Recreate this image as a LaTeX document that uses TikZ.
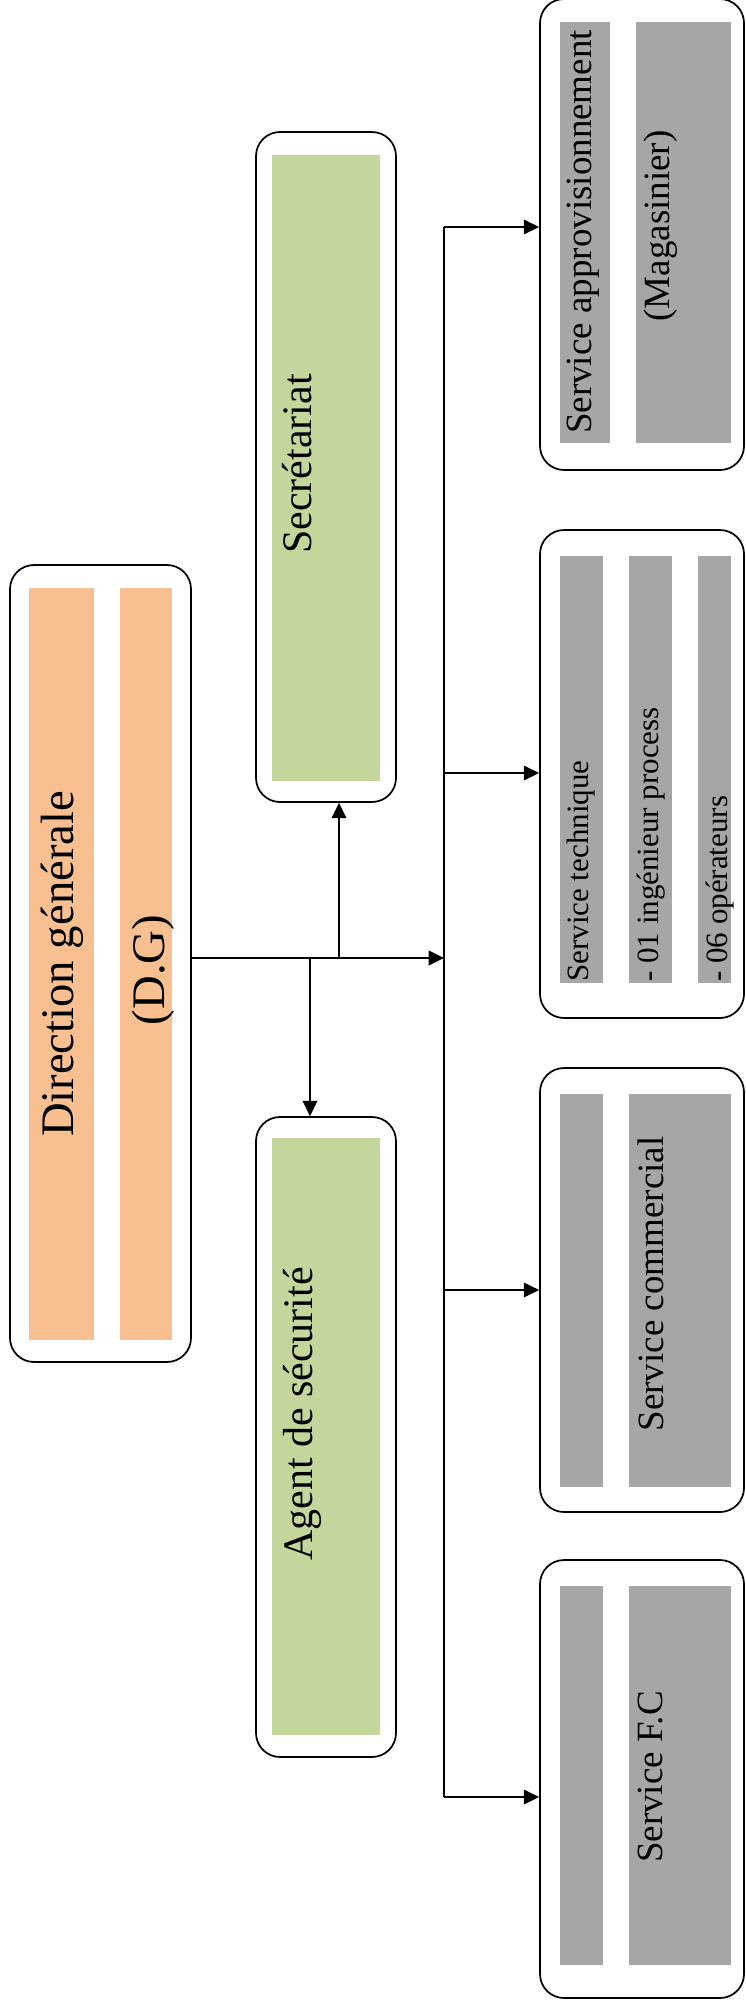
\documentclass[tikz,border=0pt]{standalone}
\usepackage{fontspec}
\setmainfont{Liberation Serif}
\usetikzlibrary{arrows.meta}
\newcommand{\px}{0.75pt}

\begin{document}
\begin{tikzpicture}[x=0.75pt,y=0.75pt,yscale=-1,xscale=1,
  unitbox/.style={draw, line width=1.3pt, rounded corners=18pt, fill=white, inner sep=0pt},
  orangestrip/.style={fill={rgb, 255:red, 248; green, 192; blue, 144 }},
  greenstrip/.style={fill={rgb, 255:red, 195; green, 214; blue, 155 }},
  greystrip/.style={fill={rgb, 255:red, 166; green, 166; blue, 166 }},
  vtext/.style={rotate=90, inner sep=0pt},
  dgfont/.style={font=\fontsize{35}{42}\selectfont},
  greenfont/.style={font=\fontsize{31.5}{38}\selectfont},
  servfont/.style={font=\fontsize{27.75}{33}\selectfont},
  techfont/.style={font=\fontsize{23.25}{28}\selectfont},
  link/.style={line width=1.2pt, -{Triangle[length=11.5pt,width=11pt]}},
  busline/.style={line width=1.2pt}
]
\useasboundingbox (0,0) rectangle (746,2000);

%Shape: Rounded Rect [direction]
\node[unitbox, minimum width=181*\px, minimum height=797*\px] (dg) at (100.5,963.5) {};
\fill[orangestrip] (29,588) rectangle (94,1340);
\fill[orangestrip] (120,588) rectangle (172,1340);
%Shape: Rounded Rect [secretariat]
\node[unitbox, minimum width=140*\px, minimum height=670*\px] (secr) at (326,467) {};
\fill[greenstrip] (272,155) rectangle (380,781);
%Shape: Rounded Rect [agent]
\node[unitbox, minimum width=140*\px, minimum height=640*\px] (agent) at (326,1437) {};
\fill[greenstrip] (272,1138) rectangle (380,1735);
%Shape: Rounded Rect [approvisionnement]
\node[unitbox, minimum width=204*\px, minimum height=471*\px] (appro) at (642,234.5) {};
\fill[greystrip] (560,22) rectangle (610,443);
\fill[greystrip] (636,22) rectangle (731,443);
%Shape: Rounded Rect [technique]
\node[unitbox, minimum width=204*\px, minimum height=488*\px] (tech) at (642,774) {};
\fill[greystrip] (560,556) rectangle (603,983);
\fill[greystrip] (629,556) rectangle (672,983);
\fill[greystrip] (698,556) rectangle (731,983);
%Shape: Rounded Rect [commercial]
\node[unitbox, minimum width=204*\px, minimum height=444*\px] (comm) at (642,1290) {};
\fill[greystrip] (560,1094) rectangle (603,1487);
\fill[greystrip] (629,1094) rectangle (731,1487);
%Shape: Rounded Rect [F.C]
\node[unitbox, minimum width=204*\px, minimum height=438*\px] (fc) at (642,1779) {};
\fill[greystrip] (560,1586) rectangle (603,1965);
\fill[greystrip] (629,1586) rectangle (731,1965);

% Text Node
\node[vtext, dgfont] (dgName) at (62,964) {Direction générale};
% Text Node
\node[vtext, dgfont] (dgAbbr) at (153,970) {(D.G)};
% Text Node
\node[vtext, greenfont] (secrName) at (297,464) {Secrétariat};
% Text Node
\node[vtext, greenfont] (agentName) at (302,1414) {Agent de sécurité};
% Text Node
\node[vtext, servfont] (approName) at (583,232) {Service approvisionnement};
% Text Node
\node[vtext, servfont] (approMag) at (661,226) {(Magasinier)};
% Text Node
\node[vtext, techfont, anchor=west] (techName) at (581,982) {Service technique};
% Text Node
\node[vtext, techfont, anchor=west] (techIng) at (651,982) {- 01 ingénieur process};
% Text Node
\node[vtext, techfont, anchor=west] (techOp) at (720,982) {- 06 opérateurs};
% Text Node
\node[vtext, servfont] (commName) at (651,1284) {Service commercial};
% Text Node
\node[vtext, servfont] (fcName) at (651,1777) {Service F.C};

%Straight Lines
\coordinate (hub) at (444,958);
\coordinate (jSecr) at (339,958);
\coordinate (jAgent) at (310,958);
\coordinate (bAppro) at (444,227);
\coordinate (bTech) at (444,773);
\coordinate (bComm) at (444,1290);
\coordinate (bFc) at (444,1797);

\draw[link] (dg.east |- hub) -- (hub);
\draw[link] (jSecr) -- (jSecr |- secr.south);
\draw[link] (jAgent) -- (jAgent |- agent.north);
\draw[busline] (bAppro) -- (bFc);
\draw[link] (bAppro) -- (bAppro -| appro.west);
\draw[link] (bTech) -- (bTech -| tech.west);
\draw[link] (bComm) -- (bComm -| comm.west);
\draw[link] (bFc) -- (bFc -| fc.west);

\end{tikzpicture}
\end{document}
